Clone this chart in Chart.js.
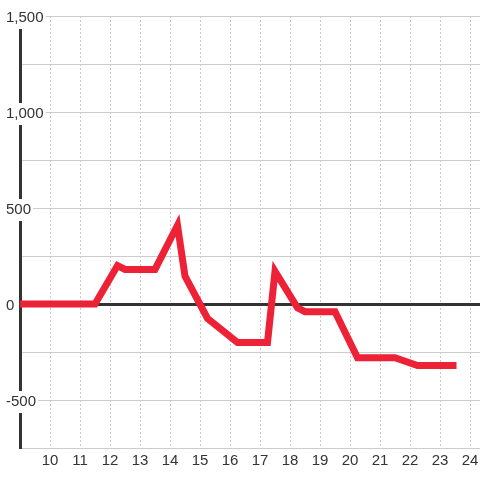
<!DOCTYPE html>
<html>
<head>
<meta charset="utf-8">
<script src="https://cdn.jsdelivr.net/npm/chart.js@4"></script>
<style>
html,body{margin:0;padding:0;background:#fff;}
#wrap{width:480px;height:480px;}
</style>
</head>
<body>
<div id="wrap"><canvas id="c" width="480" height="480"></canvas></div>
<script>
const hours  = [9, 11.5, 12.25, 12.5, 13.5, 14.25, 14.5, 15.25, 16.25, 17.25, 17.5, 18.25, 18.5, 19.5, 20.25, 21.5, 22.25, 23.55];
const values = [0, 0, 200, 180, 180, 410, 145, -75, -200, -200, 170, -20, -40, -40, -280, -280, -320, -320];
const yTickLabels = [-500, 0, 500, 1000, 1500];

const points = hours.map((h, i) => ({x: h, y: values[i]}));

new Chart(document.getElementById('c'), {
  type: 'line',
  data: {
    datasets: [{
      data: points,
      borderColor: '#ed2236',
      borderWidth: 7,
      pointRadius: 0,
      pointHoverRadius: 0,
      tension: 0,
      fill: false,
      clip: false
    }]
  },
  options: {
    responsive: false,
    animation: false,
    events: [],
    layout: {padding: {left: 0, top: 16, right: 0, bottom: 0}},
    plugins: {legend: {display: false}, tooltip: {enabled: false}},
    scales: {
      x: {
        type: 'linear',
        min: 9,
        max: 24.333,
        afterFit: s => { s.height = 32; s.paddingLeft = 0; s.paddingRight = 0; },
        grid: {
          z: -1,
          color: c => (c.tick && c.tick.value === 9) ? 'rgba(0,0,0,0)' : '#c8c8c8',
          lineWidth: 1,
          drawTicks: false
        },
        border: {display: false, dash: [2, 2]},
        ticks: {
          stepSize: 1,
          includeBounds: false,
          autoSkip: false,
          maxRotation: 0,
          padding: 4,
          color: '#333',
          font: {family: 'Liberation Sans', size: 15},
          callback: v => v === 9 ? '' : String(v)
        }
      },
      y: {
        min: -750,
        max: 1500,
        afterFit: s => { s.width = 20; s.paddingTop = 0; s.paddingBottom = 0; },
        grid: {
          color: c => (c.tick && c.tick.value === 0) ? '#333333' : '#cccccc',
          lineWidth: c => (c.tick && c.tick.value === 0) ? 3 : 1,
          drawTicks: false
        },
        border: {display: true, color: '#333333', width: 3},
        ticks: {
          stepSize: 250,
          autoSkip: false,
          mirror: true,
          crossAlign: 'near',
          padding: -14,
          labelOffset: 2,
          color: '#333',
          font: {family: 'Liberation Sans', size: 15},
          showLabelBackdrop: true,
          backdropColor: '#ffffff',
          backdropPadding: 2,
          callback: v => yTickLabels.includes(v) ? v.toLocaleString('en-US') : ''
        }
      }
    }
  }
});
</script>
</body>
</html>
